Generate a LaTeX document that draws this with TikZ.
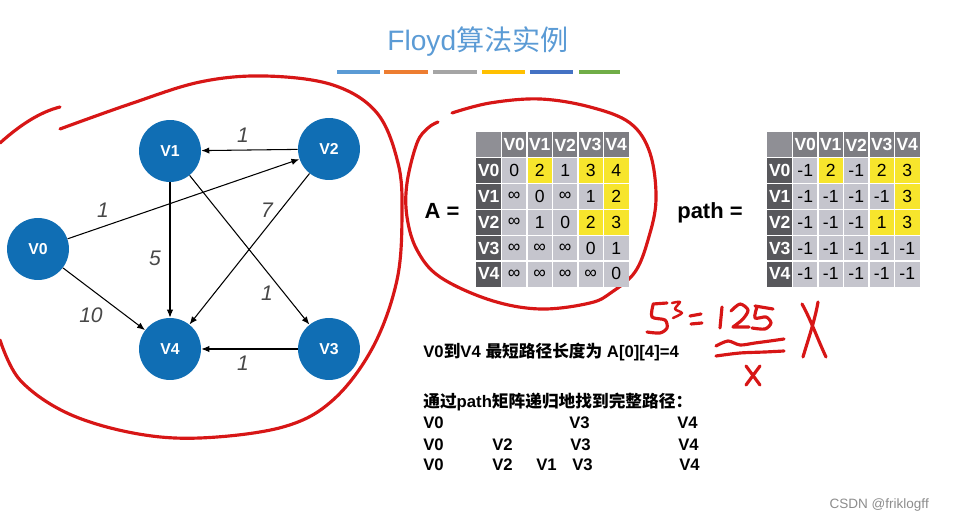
\documentclass[tikz,border=0pt]{standalone}
\usepackage{fontspec}
\setmainfont{Liberation Sans}
\newfontfamily\cjk{Noto Sans CJK SC}
\usetikzlibrary{arrows.meta}
\definecolor{vblue}{RGB}{16,110,180}
\definecolor{tblue}{RGB}{91,155,213}
\definecolor{inkred}{RGB}{215,22,22}
\definecolor{cellbg}{RGB}{197,197,205}
\definecolor{rowhd}{RGB}{88,88,92}
\definecolor{colhd}{RGB}{125,125,130}
\definecolor{corner}{RGB}{143,143,149}
\definecolor{hilite}{RGB}{247,229,44}
\definecolor{barA}{RGB}{91,155,213}
\definecolor{barB}{RGB}{237,125,49}
\definecolor{barC}{RGB}{165,165,165}
\definecolor{barD}{RGB}{255,192,0}
\definecolor{barE}{RGB}{68,114,196}
\definecolor{barF}{RGB}{112,173,71}

\begin{document}
\begin{tikzpicture}[x=0.02cm, y=-0.02cm,
   vertex/.style={circle, fill=vblue, text=white, minimum size=1.24cm, inner sep=0pt, font=\fontsize{9}{10}\selectfont\bfseries},
   link/.style={-{Latex[length=4.5pt,width=3.6pt]}, line width=0.6pt},
   wt/.style={font=\fontsize{12}{14}\selectfont\itshape, text=black!72},
   ink/.style={draw=inkred, line width=1.8pt, line cap=round, line join=round},
   hd/.style={text=white, font=\fontsize{10}{12}\selectfont\bfseries, inner sep=0pt},
   val/.style={font=\fontsize{10}{12}\selectfont, inner sep=0pt},
   txt/.style={font=\fontsize{9.5}{11}\selectfont\bfseries, inner sep=0pt}]
   \useasboundingbox (0,0) rectangle (958,523);

   % title
   \node[anchor=base, font=\fontsize{16}{19}\selectfont, text=tblue] (title) at (478,51) {Floyd{\cjk 算法实例}};
   \foreach \xa/\xb/\cl in {337/380/barA, 384/428/barB, 433/477/barC, 482/525/barD, 530/573/barE, 579/620/barF}
      \fill[\cl] (\xa,70) rectangle (\xb,74);

   % graph
   \node[vertex] (V0) at (38,249) {V0};
   \node[vertex] (V1) at (170,151) {V1};
   \node[vertex] (V2) at (329,149) {V2};
   \node[vertex] (V3) at (329,349) {V3};
   \node[vertex] (V4) at (170,349) {V4};
   \draw[link] (V2) -- (V1);
   \draw[link] (V0) -- (V2);
   \draw[link] (V1) -- (V4);
   \draw[link] (V2) -- (V4);
   \draw[link] (V1) -- (V3);
   \draw[link] (V0) -- (V4);
   \draw[link] (V3) -- (V4);
   \node[wt] (w21) at (243,135) {1};
   \node[wt] (w02) at (103,210) {1};
   \node[wt] (w14) at (155,258) {5};
   \node[wt] (w24) at (267,210) {7};
   \node[wt] (w13) at (267,293) {1};
   \node[wt] (w04) at (91,315) {10};
   \node[wt] (w34) at (243,363) {1};

   % red marks
   \draw[ink] (0,143) .. controls (20,125) and (40,112) .. (60,107);
   \draw[ink] plot[smooth, tension=0.6] coordinates {(60,129) (130,104) (200,82) (265,76) (333,85) (377,113) (398,163) (402,213) (397,280) (373,347) (333,400) (283,427) (200,438) (133,433) (67,413) (20,380) (0,340)};
   \draw[ink] plot[smooth, tension=0.6] coordinates {(452,113) (490,103) (540,99) (590,107) (630,123) (650,153) (656,200) (648,240) (635,272) (612,292) (590,303) (540,309) (490,300) (440,277) (417,250) (407,217) (407,183) (417,143) (428,128) (438,122)};
   \draw[ink] (653,304) -- (667,303);
   \draw[ink] plot[smooth] coordinates {(653,305) (652,317) (665,320) (667,328) (660,333) (647,332)};
   \draw[ink, line width=1.4pt] plot[smooth] coordinates {(672,303) (680,302) (675,309) (682,313) (673,318)};
   \draw[ink] (690,316) -- (701,314);
   \draw[ink] (691,324) -- (702,323);
   \draw[ink] (722,307) -- (720,328);
   \draw[ink] plot[smooth] coordinates {(731,311) (740,304) (748,310) (743,319) (733,327)} -- (749,327);
   \draw[ink] (755,306) -- (773,309);
   \draw[ink] plot[smooth] coordinates {(757,307) (755,318) (766,317) (771,323) (765,329) (752,328)};
   \draw[ink] plot[smooth] coordinates {(716,346) (728,341) (740,345) (755,343) (770,341) (784,339)};
   \draw[ink] plot[smooth] coordinates {(716,356) (740,353) (765,352) (784,351)};
   \draw[ink] (746,366) -- (760,385);
   \draw[ink] (760,366) -- (746,385);
   \draw[ink] (802,304) .. controls (810,318) and (818,340) .. (826,357);
   \draw[ink] (818,302) .. controls (815,320) and (808,340) .. (803,357);

   % matrices
   \node[anchor=base, font=\fontsize{12.5}{14}\selectfont\bfseries] (Aeq) at (442,219) {A =};
   \node[anchor=base, font=\fontsize{12.5}{14}\selectfont\bfseries] (Peq) at (710,219) {path =};
   \foreach \mx/\mn in {476/A, 767/P} {
      \foreach \r in {1,...,5}
         \foreach \c in {1,...,5}
            \fill[cellbg] ({\mx+\c*25.5},{132+\r*25.8}) rectangle ++(25.5,25.8);
      \foreach \r/\c in {1/2, 1/4, 1/5, 2/5, 3/4, 3/5}
         \fill[hilite] ({\mx+\c*25.5},{132+\r*25.8}) rectangle ++(25.5,25.8);
      \fill[corner] (\mx,132) rectangle ++(25.5,25.8);
      \fill[colhd] ({\mx+25.5},132) rectangle ++(127.5,25.8);
      \fill[rowhd] (\mx,157.8) rectangle ++(25.5,129);
      \foreach \i in {1,...,5} {
         \draw[white, line width=0.6pt] ({\mx+\i*25.5},132) -- ++(0,154.8);
         \draw[white, line width=0.6pt] (\mx,{132+\i*25.8}) -- ++(153,0);
      }
      \foreach \i in {0,...,4} {
         \node[hd] (\mn-c\i) at ({\mx+(\i+1.5)*25.5},144.9) {V\i};
         \node[hd] (\mn-r\i) at ({\mx+12.75},{132+(\i+1.5)*25.8}) {V\i};
      }
   }
   \foreach \v [count=\c] in {0,2,1,3,4} \node[val] (A-1-\c) at ({476+(\c+0.5)*25.5},{132+1.5*25.8}) {\v};
   \foreach \v [count=\c] in {∞,0,∞,1,2} \node[val] (A-2-\c) at ({476+(\c+0.5)*25.5},{132+2.5*25.8}) {\v};
   \foreach \v [count=\c] in {∞,1,0,2,3} \node[val] (A-3-\c) at ({476+(\c+0.5)*25.5},{132+3.5*25.8}) {\v};
   \foreach \v [count=\c] in {∞,∞,∞,0,1} \node[val] (A-4-\c) at ({476+(\c+0.5)*25.5},{132+4.5*25.8}) {\v};
   \foreach \v [count=\c] in {∞,∞,∞,∞,0} \node[val] (A-5-\c) at ({476+(\c+0.5)*25.5},{132+5.5*25.8}) {\v};
   \foreach \v [count=\c] in {-1,2,-1,2,3} \node[val] (P-1-\c) at ({767+(\c+0.5)*25.5},{132+1.5*25.8}) {\v};
   \foreach \v [count=\c] in {-1,-1,-1,-1,3} \node[val] (P-2-\c) at ({767+(\c+0.5)*25.5},{132+2.5*25.8}) {\v};
   \foreach \v [count=\c] in {-1,-1,-1,1,3} \node[val] (P-3-\c) at ({767+(\c+0.5)*25.5},{132+3.5*25.8}) {\v};
   \foreach \v [count=\c] in {-1,-1,-1,-1,-1} \node[val] (P-4-\c) at ({767+(\c+0.5)*25.5},{132+4.5*25.8}) {\v};
   \foreach \v [count=\c] in {-1,-1,-1,-1,-1} \node[val] (P-5-\c) at ({767+(\c+0.5)*25.5},{132+5.5*25.8}) {\v};

   % text below
   \node[txt, anchor=base west] (len) at (423,358) {V0{\cjk 到}V4 {\cjk 最短路径长度为} A[0][4]=4};
   \node[txt, anchor=base west] (how) at (423,408) {{\cjk 通过}path{\cjk 矩阵递归地找到完整路径：}};
   \foreach \t/\x [count=\i] in {V0/423, V3/569, V4/677}
      \node[txt, anchor=base west] (ra\i) at (\x,429) {\t};
   \foreach \t/\x [count=\i] in {V0/423, V2/492, V3/570, V4/678}
      \node[txt, anchor=base west] (rb\i) at (\x,451) {\t};
   \foreach \t/\x [count=\i] in {V0/423, V2/492, V1/536, V3/572, V4/679}
      \node[txt, anchor=base west] (rc\i) at (\x,471) {\t};

   \node[anchor=east, text=black!45, font=\fontsize{7.7}{9}\selectfont] (mark) at (935,505) {CSDN @friklogff};
\end{tikzpicture}
\end{document}
